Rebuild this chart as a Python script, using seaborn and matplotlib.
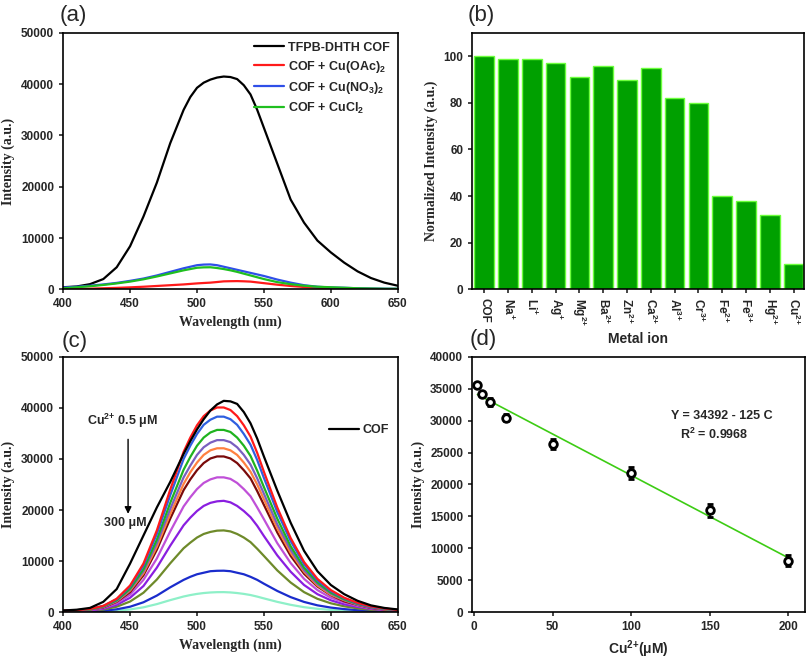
import numpy as np
import pandas as pd
import matplotlib
matplotlib.use("Agg")
import matplotlib.pyplot as plt
import seaborn as sns

# ---- data ----
# finer steps around the band maximum
wavelength = [400, 410, 420, 430, 440, 450, 460, 470, 480,
              490, 495, 500, 505, 510, 515, 520, 525, 530, 535, 540, 545, 550,
              560, 570, 580, 590, 600, 610, 620, 630, 640, 650]

# (a) COF and COF + copper salts
cof_a = [400, 550, 1000, 2000, 4300, 8400, 14200, 20800, 28500,
         35000, 37500, 39300, 40300, 40900, 41300, 41500, 41400, 41000, 39800, 38000, 35000, 31500,
         24500, 17500, 13000, 9500, 7200, 5200, 3500, 2200, 1300, 700]
cof_oac = [50, 80, 120, 200, 280, 380, 500, 650, 800,
           950, 1050, 1150, 1230, 1300, 1420, 1550, 1580, 1600, 1560, 1500, 1350, 1200,
           900, 650, 450, 300, 200, 130, 90, 60, 40, 30]
cof_no3 = [350, 500, 700, 950, 1250, 1650, 2100, 2700, 3400,
           4100, 4400, 4700, 4820, 4850, 4700, 4400, 4100, 3800, 3500, 3200, 2900, 2600,
           1900, 1300, 800, 500, 350, 300, 200, 150, 120, 100]
cof_cl = [200, 400, 600, 850, 1150, 1500, 1950, 2500, 3100,
          3700, 3950, 4200, 4280, 4300, 4150, 3950, 3700, 3400, 3050, 2700, 2350, 2000,
          1400, 1000, 700, 500, 400, 300, 200, 150, 100, 100]

# (b) selectivity
ions = ['COF', 'Na$^{+}$', 'Li$^{+}$', 'Ag$^{+}$', 'Mg$^{2{+}}$', 'Ba$^{2{+}}$', 'Zn$^{2{+}}$',
        'Ca$^{2{+}}$', 'Al$^{3{+}}$', 'Cr$^{3{+}}$', 'Fe$^{2{+}}$', 'Fe$^{3{+}}$', 'Hg$^{2{+}}$',
        'Cu$^{2{+}}$']
norm_int = [100, 99, 99, 97, 91, 96, 90, 95, 82, 80, 40, 38, 32, 11]

# (c) titration with Cu2+
cof_c = [300, 450, 800, 2000, 4500, 9500, 15000, 20500, 25500,
         31000, 33500, 35800, 37800, 39500, 40700, 41400, 41300, 40800, 39200, 37000, 34000, 30500,
         23800, 17500, 12000, 8000, 5300, 3500, 2200, 1300, 800, 500]
cu_1 = [250, 350, 600, 1200, 2600, 5200, 9500, 16000, 24000,
        31400, 34200, 36600, 38400, 39500, 40100, 40100, 39600, 38400, 36600, 34400, 31200, 27500,
        20500, 14500, 9800, 6500, 4300, 2800, 1800, 1100, 700, 400]
cu_2 = [200, 350, 600, 1200, 2500, 5000, 9100, 15300, 22900,
        30000, 32600, 34900, 36700, 37700, 38300, 38300, 37800, 36700, 34900, 32800, 29800, 26300,
        19600, 13900, 9400, 6200, 4100, 2700, 1700, 1000, 650, 400]
cu_3 = [200, 300, 500, 1100, 2300, 4600, 8400, 14200, 21400,
        27900, 30400, 32600, 34200, 35200, 35700, 35700, 35300, 34200, 32600, 30600, 27700, 24500,
        18300, 12900, 8700, 5800, 3800, 2500, 1600, 1000, 600, 400]
cu_4 = [200, 300, 500, 1000, 2200, 4400, 8000, 13500, 20200,
        26400, 28700, 30800, 32300, 33200, 33700, 33700, 33300, 32300, 30800, 28900, 26200, 23200,
        17200, 12200, 8200, 5500, 3600, 2400, 1500, 900, 600, 300]
cu_5 = [200, 300, 500, 1000, 2100, 4200, 7600, 12800, 19200,
        25100, 27400, 29300, 30800, 31700, 32100, 32100, 31700, 30800, 29300, 27500, 25000, 22100,
        16400, 11600, 7900, 5200, 3400, 2300, 1450, 900, 550, 300]
cu_6 = [200, 300, 500, 900, 2000, 3900, 7200, 12200, 18300,
        23900, 26000, 27800, 29200, 30100, 30500, 30500, 30100, 29200, 27800, 26200, 23700, 21000,
        15600, 11000, 7500, 5000, 3300, 2100, 1400, 800, 500, 300]
cu_7 = [200, 200, 400, 800, 1700, 3400, 6300, 10500, 15800,
        20700, 22500, 24100, 25300, 26000, 26400, 26400, 26100, 25300, 24100, 22700, 20500, 18200,
        13500, 9600, 6500, 4300, 2800, 1900, 1200, 700, 450, 300]
cu_8 = [100, 200, 300, 650, 1400, 2800, 5100, 8700, 13000,
        17000, 18500, 19800, 20800, 21400, 21700, 21800, 21500, 20800, 19800, 18600, 16900, 14900,
        11100, 7900, 5300, 3500, 2300, 1500, 1000, 600, 400, 200]
cu_9 = [100, 150, 240, 480, 1040, 2060, 3780, 6370, 9550,
        12500, 13600, 14600, 15300, 15700, 15950, 16000, 15800, 15300, 14600, 13700, 12400, 11000,
        8160, 5780, 3900, 2590, 1710, 1120, 720, 430, 270, 160]
cu_10 = [50, 70, 120, 240, 530, 1040, 1910, 3220, 4840,
         6300, 6900, 7400, 7700, 8000, 8080, 8100, 8000, 7700, 7400, 6900, 6300, 5550,
         4130, 2920, 1980, 1310, 870, 570, 360, 220, 140, 80]
cu_11 = [20, 40, 60, 120, 250, 500, 920, 1550, 2330,
         3040, 3320, 3550, 3720, 3830, 3890, 3900, 3840, 3720, 3550, 3330, 3020, 2670,
         1990, 1410, 950, 630, 420, 270, 180, 110, 70, 40]

# (d) linear range
cu_conc = [2, 5, 10, 20, 50, 100, 150, 200]
cu_int = [35560, 34260, 32950, 30500, 26420, 21830, 15980, 8040]
cu_err = [300, 300, 600, 500, 780, 900, 1000, 900]

# ---- style ----
sns.set_style("ticks")
plt.rcParams['font.family'] = ['Liberation Sans', 'DejaVu Sans']
plt.rcParams['font.weight'] = 'bold'
plt.rcParams['mathtext.fontset'] = 'custom'
plt.rcParams['mathtext.rm'] = 'Liberation Sans:bold'
plt.rcParams['mathtext.bf'] = 'Liberation Sans:bold'
plt.rcParams['mathtext.default'] = 'bf'
plt.rcParams['axes.linewidth'] = 1.2

serif = dict(fontfamily='Liberation Serif', fontweight='bold', fontsize=10)

fig = plt.figure(figsize=(8.1, 6.59), dpi=100)
ax_a = fig.add_axes([0.078, 0.561, 0.413, 0.389])
ax_b = fig.add_axes([0.583, 0.561, 0.410, 0.389])
ax_c = fig.add_axes([0.078, 0.0713, 0.413, 0.387])
ax_d = fig.add_axes([0.583, 0.0713, 0.411, 0.387])

for ax in (ax_a, ax_b, ax_c, ax_d):
    ax.tick_params(direction='out', length=3, width=1.2, labelsize=8.5)
    for s in ax.spines.values():
        s.set_color('black')

# (a)
sns.lineplot(x=wavelength, y=cof_a, color='black', lw=1.6, label='TFPB-DHTH COF', ax=ax_a)
sns.lineplot(x=wavelength, y=cof_oac, color='#ff1a1a', lw=1.6, label='COF + Cu(OAc)$_2$', ax=ax_a)
sns.lineplot(x=wavelength, y=cof_no3, color='#2f4fe8', lw=1.6, label='COF + Cu(NO$_3$)$_2$', ax=ax_a)
sns.lineplot(x=wavelength, y=cof_cl, color='#1fbf1f', lw=1.6, label='COF + CuCl$_2$', ax=ax_a)
ax_a.set_xlim(400, 650)
ax_a.set_ylim(0, 50000)
ax_a.set_xticks([400, 450, 500, 550, 600, 650])
ax_a.set_yticks(range(0, 50001, 10000))
ax_a.set_xlabel('Wavelength (nm)', **serif)
ax_a.set_ylabel('Intensity (a.u.)', **serif)
ax_a.legend(loc='upper right', bbox_to_anchor=(1.01, 1.01), frameon=False, fontsize=9,
            handlelength=2.4, labelspacing=0.4, handletextpad=0.3)

# (b)
sns.barplot(x=list(range(len(ions))), y=norm_int, color='#00a000', saturation=1,
            edgecolor='#6cff3c', linewidth=1, width=0.82, ax=ax_b)
ax_b.set_xlim(-0.5, 13.45)
ax_b.set_ylim(0, 110)
ax_b.set_yticks(range(0, 101, 20))
ax_b.set_xticks(range(len(ions)))
ax_b.set_xticklabels(ions, rotation=270)
ax_b.set_xlabel('Metal ion', fontsize=10, fontweight='bold')
ax_b.set_ylabel('Normalized Intensity (a.u.)', **serif)

# (c)
titration = [
    (cu_11, '#8ef0c8'), (cu_10, '#1a2ccc'), (cu_9, '#6e8a2a'), (cu_8, '#8a1ee0'),
    (cu_7, '#c050d8'), (cu_6, '#7a0a0a'), (cu_5, '#ff8040'), (cu_4, '#7a5fc0'),
    (cu_3, '#1fb31f'), (cu_2, '#2f5fe0'), (cu_1, '#ff1a1a'),
]
for vals, col in titration:
    sns.lineplot(x=wavelength, y=vals, color=col, lw=1.6, ax=ax_c)
sns.lineplot(x=wavelength, y=cof_c, color='black', lw=1.6, label='COF', ax=ax_c)
ax_c.set_xlim(400, 650)
ax_c.set_ylim(0, 50000)
ax_c.set_xticks([400, 450, 500, 550, 600, 650])
ax_c.set_yticks(range(0, 50001, 10000))
ax_c.set_xlabel('Wavelength (nm)', **serif)
ax_c.set_ylabel('Intensity (a.u.)', **serif)
ax_c.legend(loc='center left', bbox_to_anchor=(0.76, 0.714), frameon=False, fontsize=9,
            handlelength=2.4, handletextpad=0.3)
ax_c.text(444.5, 37500, 'Cu$^{2{+}}$ 0.5 \u03bcM', ha='center', va='center', fontsize=9)
ax_c.text(446.4, 17450, '300 \u03bcM', ha='center', va='center', fontsize=9)
ax_c.annotate('', xy=(448.5, 18700), xytext=(448.5, 34400),
              arrowprops=dict(arrowstyle='-|>', color='black', lw=1.0, mutation_scale=10))

# (d)
sns.regplot(x=cu_conc, y=cu_int, ci=None, scatter=False, color='#3dcc14',
            line_kws=dict(lw=1.2), ax=ax_d)
ax_d.errorbar(cu_conc, cu_int, yerr=cu_err, fmt='o', color='black', mfc='white',
              mec='black', mew=2, ms=5.5, capsize=2, elinewidth=1.2, zorder=5)
ax_d.set_xlim(-1.3, 210.8)
ax_d.set_ylim(0, 40000)
ax_d.set_xticks([0, 50, 100, 150, 200])
ax_d.set_yticks(range(0, 40001, 5000))
ax_d.set_xlabel('Cu$^{2{+}}$(\u03bcM)', fontsize=10, fontweight='bold')
ax_d.set_ylabel('Intensity (a.u.)', **serif)
ax_d.text(158, 30745, 'Y = 34392 - 125 C', ha='center', va='center', fontsize=9)
ax_d.text(153, 27800, 'R$^2$ = 0.9968', ha='center', va='center', fontsize=9)

for lab, x, y in [('(a)', 60, 15), ('(b)', 468, 15), ('(c)', 62, 341), ('(d)', 470, 340)]:
    fig.text(x / 810, 1 - y / 659, lab, ha='left', va='center', fontsize=16,
             fontweight='normal')

fig.savefig('out.png', dpi=100)
